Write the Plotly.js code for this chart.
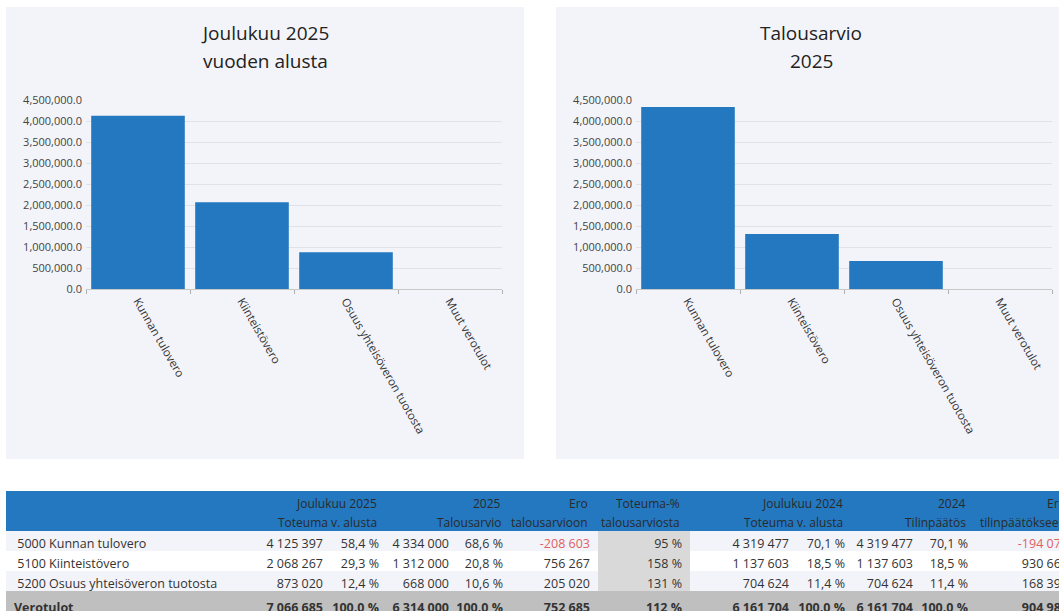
<!DOCTYPE html>
<html><head><meta charset="utf-8">
<script src="https://cdn.plot.ly/plotly-3.0.1.min.js"></script>
<style>html,body{margin:0;padding:0;overflow:hidden;background:#fff}#chart{width:1100px;height:612px}</style>
</head><body><div id="chart"></div><script>
// ---- chart data ----
const categories = ['Kunnan tulovero', 'Kiinteistövero', 'Osuus yhteisöveron tuotosta', 'Muut verotulot'];
const actual2025 = [4125397, 2068267, 873020, 0];
const budget2025 = [4334000, 1312000, 668000, 0];
const titleLeft = ['Joulukuu 2025', 'vuoden alusta'];
const titleRight = ['Talousarvio', '2025'];

// ---- table data ----
const rowNames = ['5000 Kunnan tulovero', '5100 Kiinteistövero', '5200 Osuus yhteisöveron tuotosta', 'Verotulot'];
const toteuma2025 = ['4 125 397', '2 068 267', '873 020', '7 066 685'];
const toteuma2025Pct = ['58,4 %', '29,3 %', '12,4 %', '100.0 %'];
const talousarvio2025 = ['4 334 000', '1 312 000', '668 000', '6 314 000'];
const talousarvio2025Pct = ['68,6 %', '20,8 %', '10,6 %', '100.0 %'];
const eroTalousarvioon = ['-208 603', '756 267', '205 020', '752 685'];
const toteumaPctTalousarviosta = ['95 %', '158 %', '131 %', '112 %'];
const toteuma2024 = ['4 319 477', '1 137 603', '704 624', '6 161 704'];
const toteuma2024Pct = ['70,1 %', '18,5 %', '11,4 %', '100.0 %'];
const tilinpaatos2024 = ['4 319 477', '1 137 603', '704 624', '6 161 704'];
const tilinpaatos2024Pct = ['70,1 %', '18,5 %', '11,4 %', '100.0 %'];
const eroTilinpaatokseen = ['-194 079', '930 664', '168 396', '904 981'];
const headerTop = ['Joulukuu 2025', '2025', 'Ero', 'Toteuma-%', 'Joulukuu 2024', '2024', 'Ero'];
const headerBottom = ['Toteuma v. alusta', 'Talousarvio', 'talousarvioon', 'talousarviosta', 'Toteuma v. alusta', 'Tilinpäätös', 'tilinpäätökseen'];
const headerEndColumn = [2, 4, 5, 6, 8, 10, 11];
const totalRowIndex = 3;

// ---- layout geometry (pixels) ----
const W = 1100, H = 612;
const px = v => v / W, py = v => 1 - v / H;
const colEdges = [6, 260, 331, 387, 457, 511, 598, 690, 797, 853, 921, 976, 1076];
const colWidths = colEdges.slice(1).map((e, i) => e - colEdges[i]);

const BLUE = '#2378c0';
const PANEL = '#f3f4f9';
const FONT = '"Open Sans", "Noto Sans", sans-serif';

const rawColumns = [rowNames, toteuma2025, toteuma2025Pct, talousarvio2025, talousarvio2025Pct,
  eroTalousarvioon, toteumaPctTalousarviosta, toteuma2024, toteuma2024Pct,
  tilinpaatos2024, tilinpaatos2024Pct, eroTilinpaatokseen];

const nb = s => s.replace(/ /g, '\u00a0');
const columns = rawColumns.map((col, c) => col.map((v, r) => {
  let s = c === 0 ? (r === totalRowIndex ? v : '\u00a0' + v) : nb(v);
  if (c !== 0) s = nb(s);
  return r === totalRowIndex ? '<b>' + s + '</b>' : s;
}));

const fillColors = rawColumns.map((col, c) => col.map((v, r) => {
  if (r === totalRowIndex) return '#bfbfbf';
  if (c === 6) return '#d9d9d9';
  return r === 1 ? '#ffffff' : PANEL;
}));
const fontColors = rawColumns.map(col => col.map(v => (v.startsWith('-') ? '#e06060' : '#333333')));

const barTrace = (x, y, xa, ya) => ({
  type: 'bar', x: x, y: y, xaxis: xa, yaxis: ya,
  marker: {color: BLUE, line: {width: 0}},
  hoverinfo: 'x+y'
});

const data = [
  barTrace(categories, actual2025, 'x', 'y'),
  barTrace(categories, budget2025, 'x2', 'y2'),
  {
    type: 'table',
    domain: {x: [px(6), px(1076)], y: [0, py(491)]},
    columnwidth: colWidths,
    header: {
      values: columns.map(() => ''),
      fill: {color: BLUE},
      line: {width: 0, color: BLUE},
      height: 40
    },
    cells: {
      values: columns,
      align: columns.map((c, i) => (i === 0 ? 'left' : 'right')),
      fill: {color: fillColors},
      line: {width: 0, color: 'rgba(0,0,0,0)'},
      font: {family: FONT, size: 12.5, color: fontColors},
      height: 20
    }
  }
];

const xCommon = {
  type: 'category', showgrid: false, showline: true, linecolor: '#c8c8c8', linewidth: 1,
  ticks: 'outside', tickson: 'boundaries', ticklen: 4, tickcolor: '#b0b0b0',
  tickangle: 60, tickfont: {family: FONT, size: 11.5, color: '#333'}, fixedrange: true
};
const yCommon = {
  range: [0, 4500000], dtick: 500000, tick0: 0, tickformat: ',.1f',
  showgrid: true, gridcolor: '#e0e2e8', gridwidth: 1, zeroline: false, showline: false,
  ticks: '', ticklabelstandoff: 3, tickfont: {family: FONT, size: 11, color: '#444'}, fixedrange: true,
  domain: [py(289), py(100)]
};

const annotations = [];
const titleFont = {family: FONT, size: 19, color: '#222'};
[[titleLeft, 265], [titleRight, 811]].forEach(([lines, cx]) => {
  lines.forEach((t, i) => annotations.push({
    text: t, x: px(cx), y: py(33 + i * 28), xref: 'paper', yref: 'paper',
    xanchor: 'center', yanchor: 'middle', showarrow: false, font: titleFont
  }));
});
headerTop.forEach((t, i) => {
  const xr = colEdges[headerEndColumn[i] + 1] - 8;
  [[t, 503], [headerBottom[i], 522]].forEach(([txt, yy]) => annotations.push({
    text: txt, x: px(xr), y: py(yy), xref: 'paper', yref: 'paper',
    xanchor: 'right', yanchor: 'middle', align: 'right', showarrow: false,
    font: {family: FONT, size: 12, color: '#2a2a2a'}
  }));
});

const layout = {
  width: W, height: H,
  margin: {l: 0, r: 0, t: 0, b: 0},
  paper_bgcolor: '#ffffff', plot_bgcolor: 'rgba(0,0,0,0)',
  showlegend: false, bargap: 0.1,
  font: {family: FONT},
  xaxis: Object.assign({}, xCommon, {domain: [px(86), px(502)], anchor: 'y'}),
  yaxis: Object.assign({}, yCommon, {anchor: 'x'}),
  xaxis2: Object.assign({}, xCommon, {domain: [px(636), px(1052)], anchor: 'y2'}),
  yaxis2: Object.assign({}, yCommon, {anchor: 'x2'}),
  shapes: [
    {type: 'rect', xref: 'paper', yref: 'paper', x0: px(6), x1: px(524), y0: py(459), y1: py(7),
     fillcolor: PANEL, line: {width: 0}, layer: 'below'},
    {type: 'rect', xref: 'paper', yref: 'paper', x0: px(556), x1: px(1072), y0: py(459), y1: py(7),
     fillcolor: PANEL, line: {width: 0}, layer: 'below'}
  ],
  annotations: annotations
};

Plotly.newPlot('chart', data, layout, {displayModeBar: false, responsive: false});
</script></body></html>
